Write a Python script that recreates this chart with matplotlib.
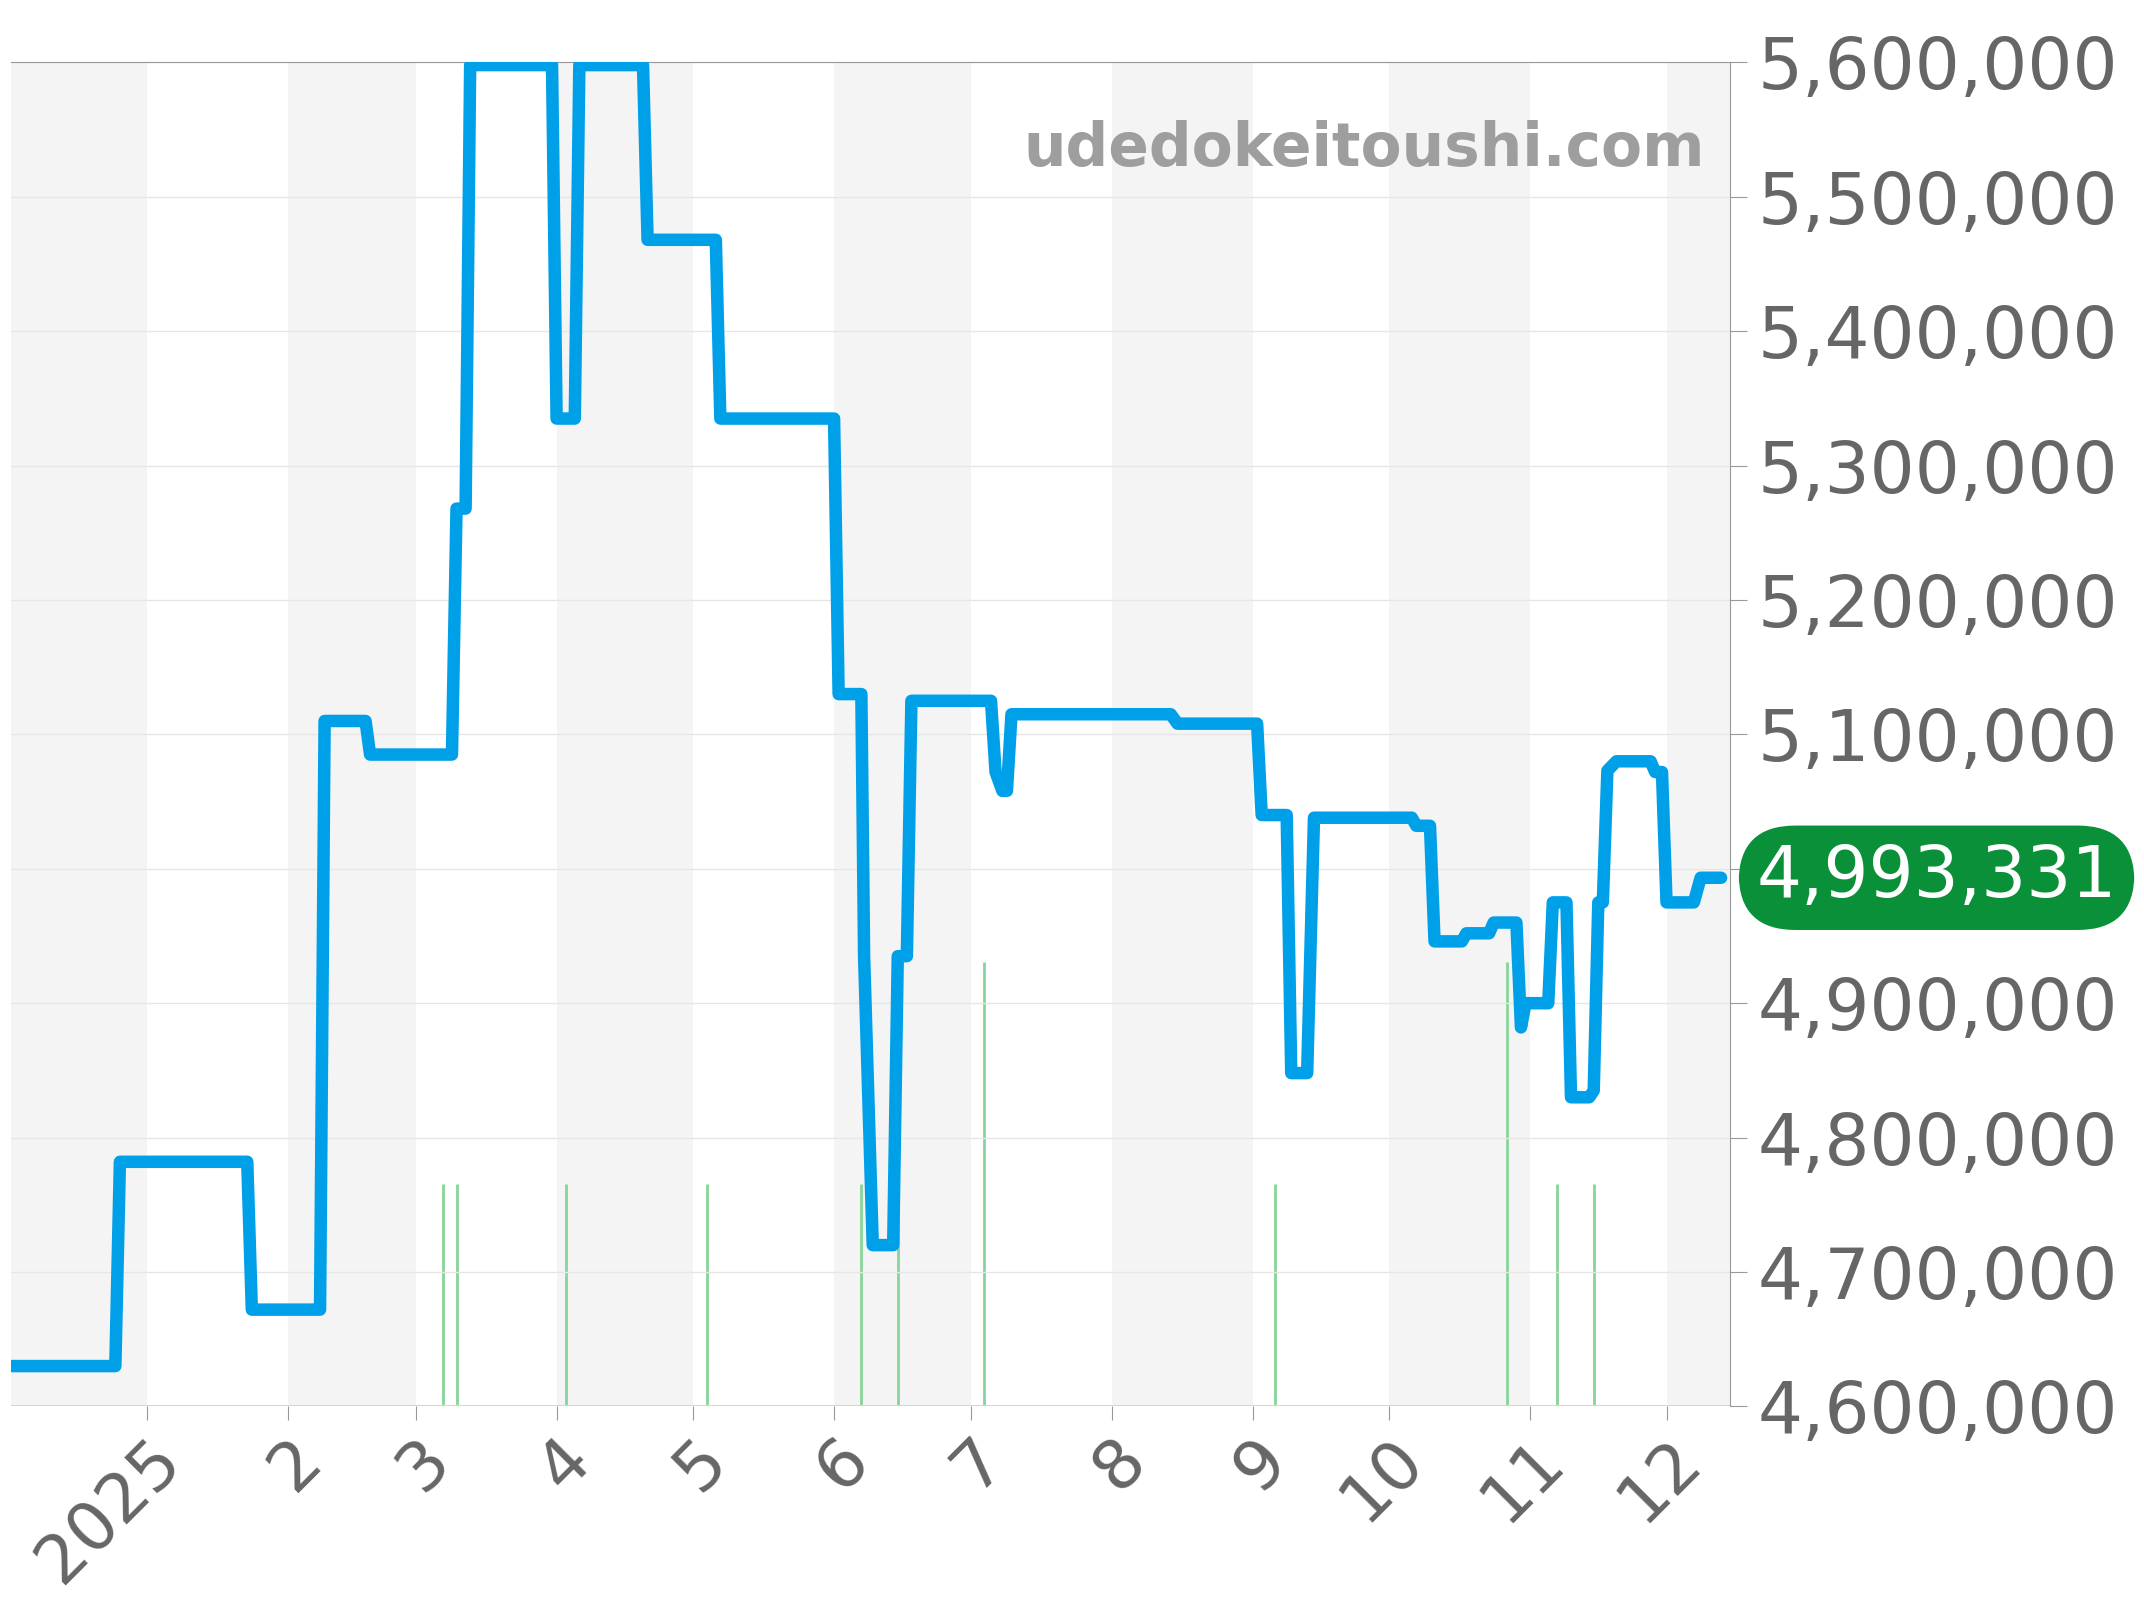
import matplotlib
matplotlib.use("Agg")
import matplotlib.pyplot as plt
import numpy as np

# days offset from 2025-01-01, price
days = [-30,-7,-6,22,23,38,39,48,49,67,68,70,71,89,90,94,95,109,110,125,126,151,152,157,157.6,159.5,164,165,167,168,185.5,186.5,188,189,190,225,226.5,244,245,250.5,251.5,255,256.5,278,279,282,283,289,290,295,296,301,302,303,308,309,312,313,317,318,319,320,321,323,330.5,331.5,333,334,340,341.5,346]
prices = [4630000,4630000,4782000,4782000,4672000,4672000,5110000,5110000,5085000,5085000,5268000,5268000,5598000,5598000,5335000,5335000,5598000,5598000,5468000,5468000,5335000,5335000,5130000,5130000,4935000,4720000,4720000,4935000,4935000,5125000,5125000,5072000,5058000,5058000,5115000,5115000,5108000,5108000,5040000,5040000,4848000,4848000,5038000,5038000,5032000,5032000,4946000,4946000,4952000,4952000,4960000,4960000,4882000,4900000,4900000,4975000,4975000,4830000,4830000,4835000,4975000,4975000,5073000,5080000,5080000,5072000,5072000,4975000,4975000,4993331,4993331]
vol_days = [65,68,92,123,157,165,184,248,299,310,318]
vol_vals = [1,1,1,1,1,1,2,1,2,1,1]
month_starts = [-31,0,31,59,90,120,151,181,212,243,273,304,334]
month_labels = ["2025","2","3","4","5","6","7","8","9","10","11","12"]
yticks = [4600000,4700000,4800000,4900000,5000000,5100000,5200000,5300000,5400000,5500000,5600000]
last = 4993331

fig = plt.figure(figsize=(21.44,16),dpi=100)
ax = fig.add_axes([0.005,0.121,0.802,0.84])
x0, x1 = -30, 348
ax2 = ax.twinx()
for i in range(len(month_starts)):
    s = month_starts[i]; e = month_starts[i+1] if i+1 < len(month_starts) else 365
    if i % 2 == 0:
        ax2.axvspan(max(s,x0), min(e,x1), color="#f4f4f4", lw=0, zorder=0)
ax2.vlines(vol_days, 0, vol_vals, color="#88d498", lw=2, zorder=2)
ax2.set_ylim(0,6.05); ax2.set_xlim(x0,x1); ax2.axis("off")
ax.set_zorder(ax2.get_zorder()+1); ax.patch.set_visible(False)
ax.plot(days, prices, color="#00a0e9", lw=9, solid_joinstyle="round", solid_capstyle="round", zorder=3)
ax.set_xlim(x0,x1); ax.set_ylim(4600000,5600000)
ax.yaxis.tick_right()
ax.set_yticks(yticks)
ax.set_yticklabels([f"{v:,}" for v in yticks], fontsize=51, color="#666")
ax.set_xticks(month_starts[1:])
ax.set_xticklabels(month_labels, fontsize=49, color="#666", rotation=45, ha="right", rotation_mode="anchor")
ax.grid(axis="y", color="#e6e6e6", lw=1)
for s in ["left","bottom"]: ax.spines[s].set_visible(False)
for s in ["top","right"]: ax.spines[s].set_color("#999")
ax.tick_params(axis="y", length=12, color="#999", pad=8)
ax.tick_params(axis="x", length=10, color="#999", pad=4)
ax.axhline(4600000, color="#bfe5c8", lw=1.5)
ax.text(0.985, 0.935, "udedokeitoushi.com", transform=ax.transAxes, ha="right", va="center", fontsize=43, fontweight="bold", color="#9e9e9e")
ax.text(1.12, last, f"{last:,}", transform=ax.get_yaxis_transform(), ha="center", va="center", fontsize=51, color="white",
        bbox=dict(boxstyle="round,pad=0.25,rounding_size=0.8", fc="#0a9038", ec="none"), zorder=5)
fig.savefig("out.png")
